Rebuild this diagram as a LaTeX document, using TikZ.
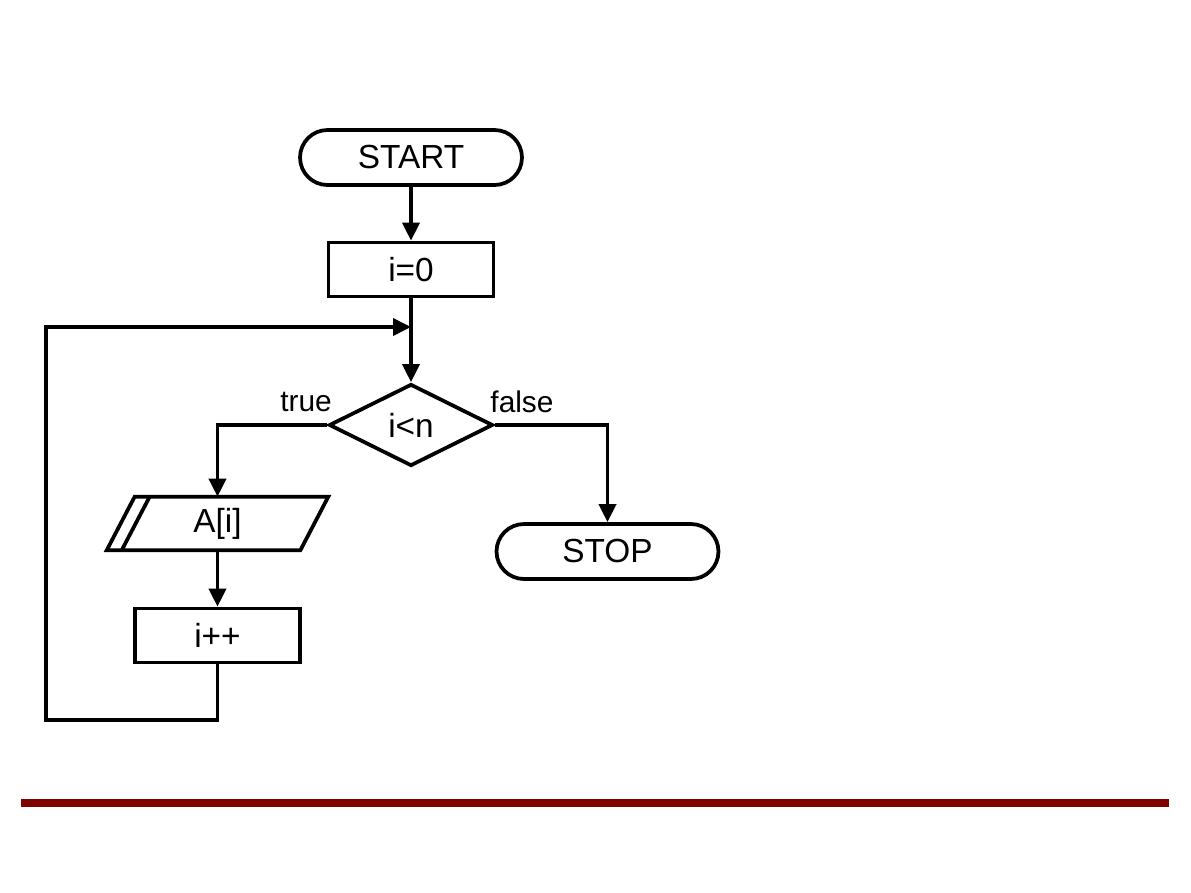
\documentclass[tikz,border=0pt]{standalone}
\usepackage{fontspec}
\setmainfont{Liberation Sans}
\usetikzlibrary{calc, shapes.geometric, arrows.meta}
\definecolor{barred}{HTML}{800000}

\begin{document}
\begin{tikzpicture}[x=0.02cm, y=-0.02cm,
        flow/.style={line width=0.075cm, -{Triangle[length=0.36cm, width=0.34cm]}},
        terminal/.style={draw, line width=0.075cm, rounded corners=0.55cm, minimum width=4.44cm,
            minimum height=1.1cm, font=\fontsize{19}{23}\selectfont},
        process/.style={draw, line width=0.075cm, minimum width=3.3cm, minimum height=1.08cm,
            font=\fontsize{19}{23}\selectfont},
        decision/.style={draw, diamond, aspect=2, inner sep=0pt, line width=0.075cm,
            minimum width=3.28cm, minimum height=1.64cm, font=\fontsize{19}{23}\selectfont},
        branch/.style={font=\fontsize{17}{20}\selectfont}]
                \useasboundingbox (0,0) rectangle (1191,893);
                \node[terminal] (start) at (411,157.5) {START};
                \node[process] (init) at (411,269.5) {i=0};
                \node[decision] (cond) at (411,425) {i<n};
                \node[terminal] (stop) at (607.5,551.5) {STOP};
                \node[inner sep=0pt, minimum width=4.42cm, minimum height=1.06cm,
                    font=\fontsize{19}{23}\selectfont] (elem) at (217.5,523.5) {A[i]};
                \node[process] (incr) at (217.5,635.5) {i++};
                \node[branch] (truelbl) at (306,402) {true};
                \node[branch] (falselbl) at (522,402) {false};
                \coordinate (join) at (411,327);
                \coordinate (corner) at (46,720);
                \draw[line width=0.075cm, line join=miter]
                    ($(elem.north west)+(28,0)$) -- (elem.north east)
                    -- ($(elem.south east)+(-28,0)$) -- (elem.south west) -- cycle;
                \draw[line width=0.075cm] ($(elem.north west)+(43,0)$) -- ($(elem.south west)+(15,0)$);
                \draw[flow] (start) -- (init);
                \draw[flow] (init) -- (cond);
                \draw[flow] (cond.west) -| (elem.north);
                \draw[flow] (cond.east) -| (stop.north);
                \draw[flow] (elem) -- (incr);
                \draw[flow] (incr.south) |- (corner) |- (join);
                \fill[barred] (21,799) rectangle (1169,807);
            \end{tikzpicture}
\end{document}
